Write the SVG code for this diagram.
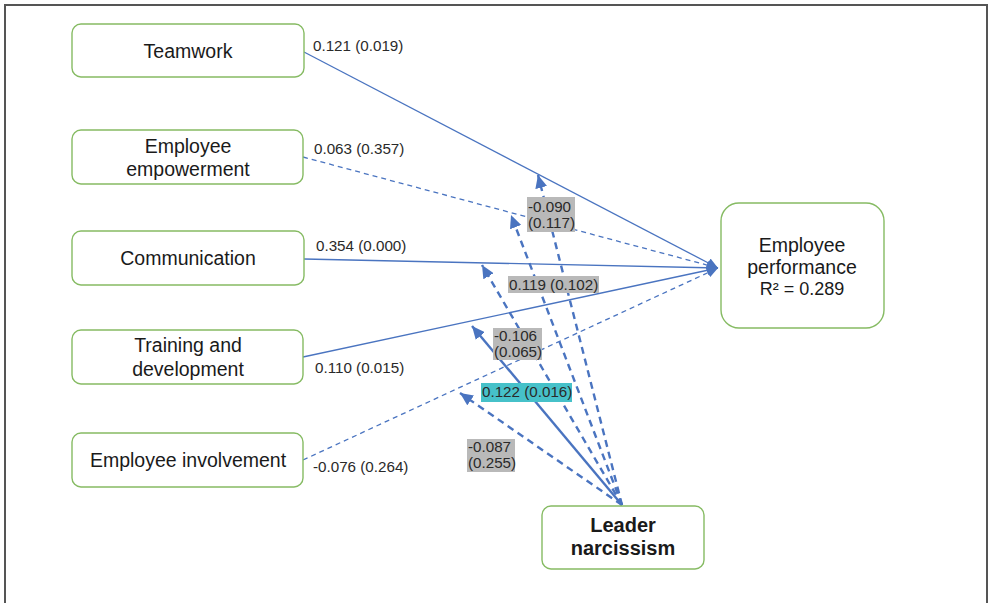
<svg xmlns="http://www.w3.org/2000/svg" width="989" height="603" viewBox="0 0 989 603">
<defs>
<style>
.box{fill:#fff;stroke:#86bb63;stroke-width:1.4}
.t{font-family:"Liberation Sans",Arial,sans-serif;font-size:19.5px;fill:#1a1a1a;text-anchor:middle}
.b{font-weight:bold;font-size:20px}
.lab{font-family:"Liberation Sans",Arial,sans-serif;font-size:15.2px;fill:#2a2a2a}
.path{stroke:#4a74c0;stroke-width:1.3;fill:none}
.dash{stroke-dasharray:5,4}
.mod{stroke:#4a74c0;stroke-width:2.4;fill:none}
.mdash{stroke-dasharray:7,5}
.gray{fill:#b9b9b9}
.cyan{fill:#46c1c9}
</style>
<marker id="ah" markerUnits="userSpaceOnUse" markerWidth="12" markerHeight="10" refX="11" refY="5" orient="auto"><path d="M0,0 L11,5 L0,10 Z" fill="#4a74c0"/></marker>
<marker id="am" markerUnits="userSpaceOnUse" markerWidth="14" markerHeight="12" refX="13" refY="6" orient="auto"><path d="M0,0 L13,6 L0,12 Z" fill="#4a74c0"/></marker>
</defs>
<rect x="0" y="0" width="989" height="603" fill="#fff"/>
<rect x="5" y="5" width="982" height="620" fill="none" stroke="#555" stroke-width="2"/>

<g id="connectors">
<line class="path" x1="304" y1="52" x2="718" y2="268" marker-end="url(#ah)"/>
<line class="path dash" x1="303" y1="157" x2="718" y2="268" marker-end="url(#ah)"/>
<line class="path" x1="304" y1="259" x2="718" y2="268" marker-end="url(#ah)"/>
<line class="path" x1="303" y1="357" x2="718" y2="268" marker-end="url(#ah)"/>
<line class="path dash" x1="303" y1="460" x2="718" y2="268" marker-end="url(#ah)"/>
<line class="mod mdash" x1="622" y1="505" x2="538" y2="175" marker-end="url(#am)"/>
<line class="mod mdash" x1="622" y1="505" x2="511" y2="215" marker-end="url(#am)"/>
<line class="mod mdash" x1="622" y1="505" x2="482" y2="265" marker-end="url(#am)"/>
<line class="mod" x1="622" y1="505" x2="472" y2="326" marker-end="url(#am)"/>
<line class="mod mdash" x1="622" y1="505" x2="460" y2="393" marker-end="url(#am)"/>
</g>

<g id="labels">
<text class="lab" x="313" y="51">0.121 (0.019)</text>
<text class="lab" x="314" y="154">0.063 (0.357)</text>
<text class="lab" x="316" y="251">0.354 (0.000)</text>
<text class="lab" x="315" y="373">0.110 (0.015)</text>
<text class="lab" x="313" y="472">-0.076 (0.264)</text>

<rect class="gray" x="527" y="197" width="48" height="35"/>
<text class="lab" x="528" y="212">-0.090</text>
<text class="lab" x="528" y="228">(0.117)</text>

<rect class="gray" x="508" y="276" width="91" height="17"/>
<text class="lab" x="509" y="290">0.119 (0.102)</text>

<rect class="gray" x="493" y="328" width="49" height="32"/>
<text class="lab" x="494" y="341">-0.106</text>
<text class="lab" x="494" y="357">(0.065)</text>

<rect class="cyan" x="481" y="383" width="91" height="19"/>
<text class="lab" x="482" y="397">0.122 (0.016)</text>

<rect class="gray" x="467" y="439" width="48" height="33"/>
<text class="lab" x="468" y="452">-0.087</text>
<text class="lab" x="468" y="468">(0.255)</text>
</g>

<g id="teamwork">
<rect class="box" x="72" y="24" width="232" height="53" rx="9"/>
<text class="t" x="188" y="58">Teamwork</text>
</g>
<g id="empowerment">
<rect class="box" x="72" y="130" width="231" height="54" rx="9"/>
<text class="t" x="188" y="153">Employee</text>
<text class="t" x="188" y="176">empowerment</text>
</g>
<g id="communication">
<rect class="box" x="72" y="231" width="232" height="54" rx="9"/>
<text class="t" x="188" y="265">Communication</text>
</g>
<g id="training">
<rect class="box" x="72" y="330" width="231" height="54" rx="9"/>
<text class="t" x="188" y="352">Training and</text>
<text class="t" x="188" y="376">development</text>
</g>
<g id="involvement">
<rect class="box" x="72" y="433" width="231" height="54" rx="9"/>
<text class="t" x="188" y="467">Employee involvement</text>
</g>
<g id="performance">
<rect class="box" x="721" y="203" width="163" height="125" rx="18"/>
<text class="t" x="802" y="252">Employee</text>
<text class="t" x="802" y="274">performance</text>
<text class="t" x="802" y="295" style="font-size:18px">R² = 0.289</text>
</g>
<g id="narcissism">
<rect class="box" x="542" y="506" width="162" height="63" rx="9"/>
<text class="t b" x="623" y="532">Leader</text>
<text class="t b" x="623" y="555">narcissism</text>
</g>
</svg>
